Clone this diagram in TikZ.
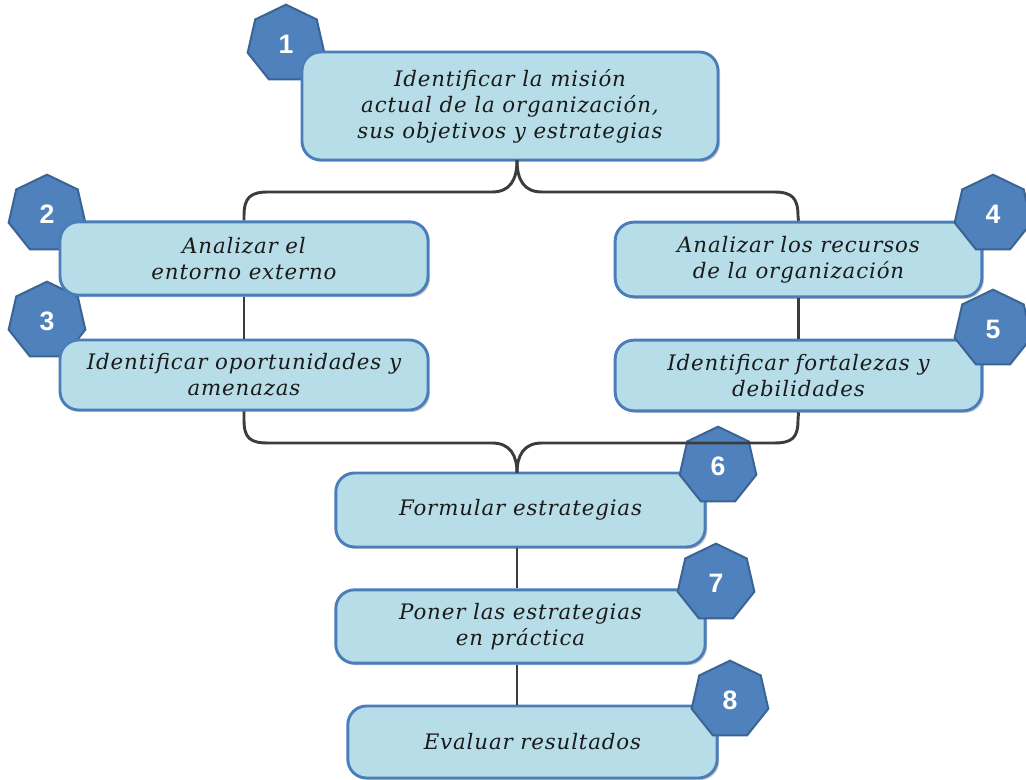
\documentclass[tikz,border=0pt]{standalone}
\usepackage{fontspec}
\usetikzlibrary{shapes.geometric,shadows}
\newfontfamily\boxfont[LetterSpace=4]{DejaVu Serif}
\newfontfamily\numfont{Liberation Sans}
\definecolor{boxfill}{HTML}{B7DEE8}
\definecolor{boxline}{HTML}{4A7EBB}
\definecolor{hexfill}{HTML}{4F81BD}
\definecolor{hexline}{HTML}{3A6494}
\definecolor{conncol}{HTML}{3C3C3C}
\definecolor{txtcol}{HTML}{1A1A1A}
\tikzset{
  stepbox/.style={draw=boxline, line width=2.2pt, fill=boxfill, rounded corners=14pt,
    align=center, inner sep=0pt, text=txtcol,
    font=\boxfont\itshape\fontsize{16}{19.5}\selectfont,
    drop shadow={shadow xshift=1.5pt, shadow yshift=-1.5pt, opacity=0.35, fill=black!60}},
  hept/.style={regular polygon, regular polygon sides=7, minimum size=59pt, inner sep=0pt,
    draw=hexline, line width=1.5pt, fill=hexfill, text=white,
    font=\numfont\bfseries\fontsize{20}{20}\selectfont},
  conn/.style={draw=conncol, line width=2.2pt}
}
\begin{document}
\begin{tikzpicture}[x=0.75pt,y=-0.75pt]
\useasboundingbox (0,0) rectangle (1026,780);
% left-side badges behind boxes
\node[hept] (h1) at (286,44) {1};
\node[hept] (h2) at (47,214) {2};
\node[hept] (h3) at (47,321) {3};
% boxes
\node[stepbox, minimum width=312pt, minimum height=81pt] (b1) at (510,106)
  {Identificar la misión\\actual de la organización,\\sus objetivos y estrategias};
\node[stepbox, minimum width=276pt, minimum height=55pt] (b2) at (244,258.5)
  {Analizar el\\entorno externo};
\node[stepbox, minimum width=276pt, minimum height=52.5pt] (b3) at (244,375)
  {Identificar oportunidades y\\amenazas};
\node[stepbox, minimum width=275pt, minimum height=56pt] (b4) at (798.5,259.5)
  {Analizar los recursos\\de la organización};
\node[stepbox, minimum width=275pt, minimum height=53pt] (b5) at (798.5,375.5)
  {Identificar fortalezas y\\debilidades};
\node[stepbox, minimum width=277pt, minimum height=55.5pt] (b6) at (520.5,510)
  {Formular estrategias};
\node[stepbox, minimum width=277pt, minimum height=55pt] (b7) at (520.5,626.5)
  {Poner las estrategias\\en práctica};
\node[stepbox, minimum width=277pt, minimum height=54pt] (b8) at (532.5,742)
  {Evaluar resultados};
% right-side badges over boxes
\node[hept] (h4) at (993,214) {4};
\node[hept] (h5) at (993,329) {5};
\node[hept] (h6) at (718,466) {6};
\node[hept] (h7) at (716,583) {7};
\node[hept] (h8) at (730,700) {8};
% connectors
\coordinate (tipA) at (517,160);
\coordinate (tipB) at (517,473);
\draw[conn] (b2.north) -- (244,216) .. controls (244,198) and (250,192) .. (268,192)
  -- (492,192) .. controls (510,192) and (517,180) .. (tipA);
\draw[conn] (b4.north) -- (798,216) .. controls (798,198) and (792,192) .. (774,192)
  -- (542,192) .. controls (524,192) and (517,180) .. (tipA);
\draw[conn] (b2.south) -- (b3.north);
\draw[conn] (b4.south) -- (b5.north);
\draw[conn] (b3.south) -- (244,420) .. controls (244,438) and (250,443) .. (268,443)
  -- (492,443) .. controls (510,443) and (517,455) .. (tipB);
\draw[conn] (b5.south) -- (798,420) .. controls (798,438) and (792,443) .. (774,443)
  -- (542,443) .. controls (524,443) and (517,455) .. (tipB);
\draw[conn] (b6.south -| tipB) -- (b7.north -| tipB);
\draw[conn] (b7.south -| tipB) -- (b8.north -| tipB);
\end{tikzpicture}
\end{document}
